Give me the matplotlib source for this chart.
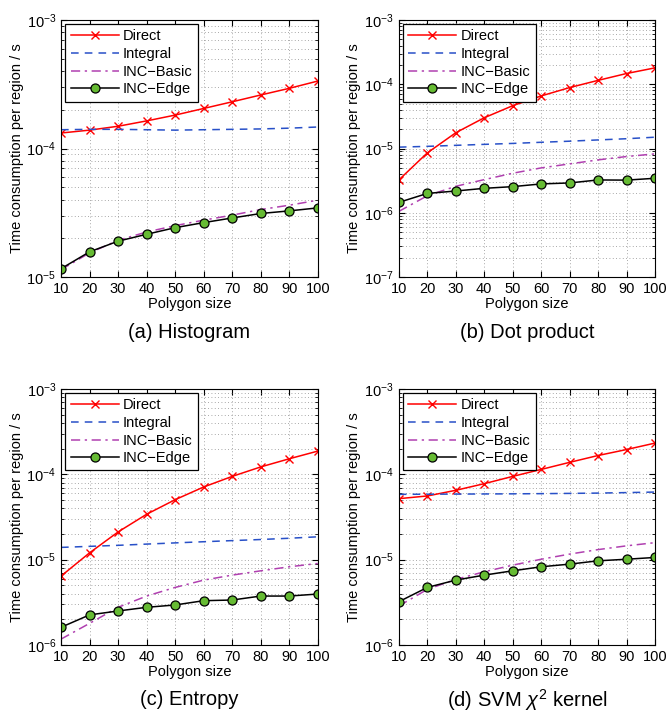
import matplotlib.pyplot as plt

plt.rcParams['font.family'] = ['Liberation Sans', 'DejaVu Sans']
plt.rcParams['mathtext.fontset'] = 'custom'
plt.rcParams['mathtext.rm'] = 'Liberation Sans'
plt.rcParams['mathtext.it'] = 'Liberation Sans:italic'

sizes = [10, 20, 30, 40, 50, 60, 70, 80, 90, 100]

# (a) Histogram
hist_direct = [1.32e-4, 1.39e-4, 1.49e-4, 1.64e-4, 1.82e-4, 2.05e-4, 2.31e-4, 2.61e-4, 2.94e-4, 3.35e-4]
hist_integral = [1.40e-4, 1.41e-4, 1.41e-4, 1.40e-4, 1.39e-4, 1.40e-4, 1.41e-4, 1.42e-4, 1.44e-4, 1.47e-4]
hist_basic = [1.14e-5, 1.54e-5, 1.93e-5, 2.24e-5, 2.51e-5, 2.77e-5, 3.03e-5, 3.35e-5, 3.62e-5, 3.96e-5]
hist_edge = [1.16e-5, 1.57e-5, 1.90e-5, 2.15e-5, 2.42e-5, 2.65e-5, 2.88e-5, 3.12e-5, 3.27e-5, 3.45e-5]

# (b) Dot product
dot_direct = [3.24e-6, 8.55e-6, 1.76e-5, 3.01e-5, 4.64e-5, 6.58e-5, 8.88e-5, 1.15e-4, 1.47e-4, 1.80e-4]
dot_integral = [1.05e-5, 1.08e-5, 1.12e-5, 1.16e-5, 1.20e-5, 1.25e-5, 1.30e-5, 1.36e-5, 1.42e-5, 1.50e-5]
dot_basic = [1.05e-6, 1.84e-6, 2.58e-6, 3.28e-6, 4.12e-6, 4.99e-6, 5.76e-6, 6.65e-6, 7.50e-6, 8.25e-6]
dot_edge = [1.45e-6, 2.00e-6, 2.18e-6, 2.40e-6, 2.55e-6, 2.81e-6, 2.91e-6, 3.24e-6, 3.22e-6, 3.44e-6]

# (c) Entropy
ent_direct = [6.41e-6, 1.20e-5, 2.11e-5, 3.40e-5, 5.04e-5, 7.10e-5, 9.45e-5, 1.22e-4, 1.52e-4, 1.87e-4]
ent_integral = [1.39e-5, 1.43e-5, 1.47e-5, 1.52e-5, 1.57e-5, 1.62e-5, 1.67e-5, 1.72e-5, 1.78e-5, 1.85e-5]
ent_basic = [1.17e-6, 1.79e-6, 2.76e-6, 3.74e-6, 4.72e-6, 5.75e-6, 6.58e-6, 7.39e-6, 8.24e-6, 9.01e-6]
ent_edge = [1.61e-6, 2.25e-6, 2.50e-6, 2.76e-6, 2.94e-6, 3.30e-6, 3.36e-6, 3.74e-6, 3.74e-6, 3.95e-6]

# (d) SVM chi2 kernel
svm_direct = [5.18e-5, 5.57e-5, 6.49e-5, 7.76e-5, 9.45e-5, 1.14e-4, 1.38e-4, 1.66e-4, 1.95e-4, 2.32e-4]
svm_integral = [5.82e-5, 5.84e-5, 5.86e-5, 5.88e-5, 5.90e-5, 5.93e-5, 5.97e-5, 6.02e-5, 6.10e-5, 6.19e-5]
svm_basic = [2.86e-6, 4.48e-6, 5.86e-6, 7.20e-6, 8.61e-6, 1.01e-5, 1.16e-5, 1.31e-5, 1.45e-5, 1.58e-5]
svm_edge = [3.21e-6, 4.72e-6, 5.75e-6, 6.58e-6, 7.39e-6, 8.24e-6, 8.85e-6, 9.68e-6, 1.01e-5, 1.06e-5]

panels = [
    ('(a) Histogram', [0.0915, 0.6126, 0.385, 0.3594], (1e-5, 1e-3),
     hist_direct, hist_integral, hist_basic, hist_edge),
    ('(b) Dot product', [0.598, 0.6126, 0.384, 0.3594], (1e-7, 1e-3),
     dot_direct, dot_integral, dot_basic, dot_edge),
    ('(c) Entropy', [0.0915, 0.098, 0.385, 0.358], (1e-6, 1e-3),
     ent_direct, ent_integral, ent_basic, ent_edge),
    (r'(d) SVM $\chi^2$ kernel', [0.598, 0.098, 0.384, 0.358], (1e-6, 1e-3),
     svm_direct, svm_integral, svm_basic, svm_edge),
]

fig = plt.figure(figsize=(6.67, 7.15), dpi=100)

for title, pos, ylim, direct, integral, basic, edge in panels:
    ax = fig.add_axes(pos)
    ax.plot(sizes, direct, color='#ff0000', marker='x', markersize=6, lw=1.1, label='Direct')
    ax.plot(sizes, integral, color='#2850c8', ls=(0, (5, 4)), lw=1.1, label='Integral')
    ax.plot(sizes, basic, color='#b040b0', ls=(0, (6, 3, 1.5, 3)), lw=1.1, label='INC\u2212Basic')
    ax.plot(sizes, edge, color='black', marker='o', markersize=6.5, markerfacecolor='#66bb33',
            markeredgecolor='black', markeredgewidth=0.9, lw=1.1, label='INC\u2212Edge')
    ax.set_yscale('log')
    ax.set_ylim(*ylim)
    ax.set_xlim(10, 100)
    ax.set_xticks(sizes)
    ax.grid(True, which='both', ls=(0, (1, 3)), color='#8c8c8c', lw=0.6)
    ax.tick_params(which='both', direction='in', top=True, right=True, labelsize=10.5)
    ax.tick_params(which='major', length=4)
    ax.tick_params(which='minor', length=2)
    ax.set_xlabel('Polygon size', fontsize=10.5, labelpad=1)
    ax.set_ylabel('Time consumption per region / s', fontsize=10.5, labelpad=2)
    leg = ax.legend(loc='upper left', fontsize=10.5, handlelength=3.3, borderaxespad=0.3,
                    fancybox=False, framealpha=1, edgecolor='black',
                    labelspacing=0.25, borderpad=0.35, handletextpad=0.3)
    leg.get_frame().set_linewidth(0.9)
    ax.text(0.5, -0.215, title, transform=ax.transAxes, ha='center', va='center', fontsize=14.5)

fig.savefig('out.png', dpi=100)
